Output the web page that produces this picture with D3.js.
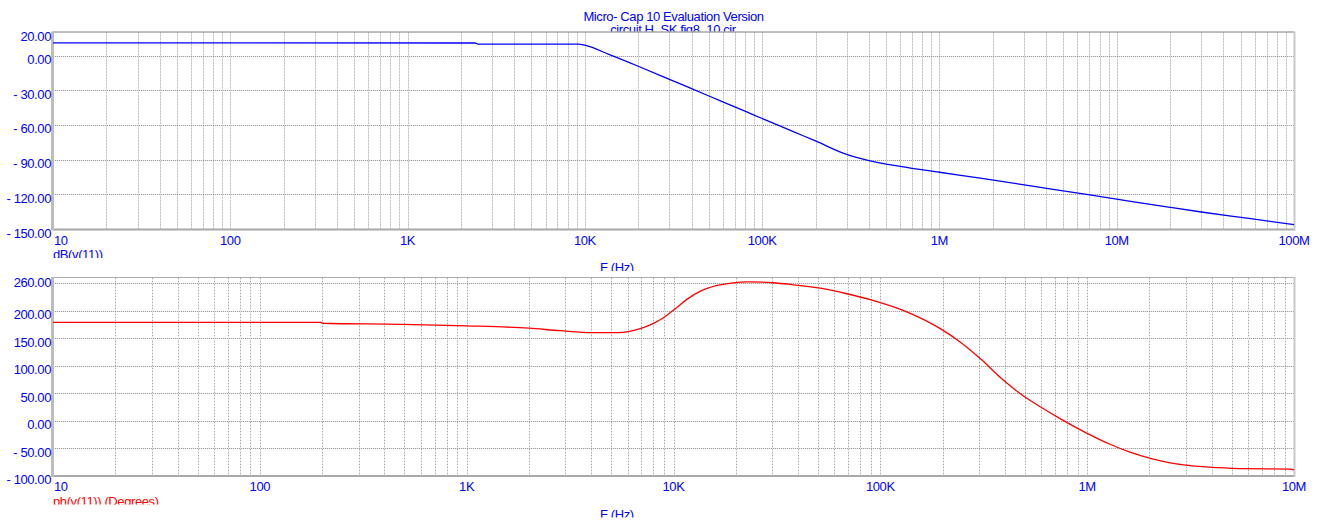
<!DOCTYPE html>
<html>
<head>
<meta charset="utf-8">
<script src="https://cdn.jsdelivr.net/npm/d3@7"></script>
<style>
  html, body { margin: 0; padding: 0; background: #fff; }
  svg { display: block; }
  text { font-family: "Liberation Sans", Arial, sans-serif; font-size: 13px; letter-spacing: -0.4px; }
</style>
</head>
<body>
<svg id="chart" width="1322" height="521"></svg>
<script>
// magnitude trace, dB(v(11))
const magFreq = [10, 2400, 2500, 9200, 10e3, 14e3, 20e3, 30e3, 40e3, 60e3, 80e3, 100e3, 150e3, 200e3, 300e3,
  400e3, 600e3, 1e6, 1.7e6, 4.2e6, 10e6, 20e6, 30e6, 57e6, 100e6];
const magDb = [11.0, 10.9, 10.0, 10.0, 9.0, 0.4, -9.2, -20.5, -28.6, -40.0, -48.1, -54.4, -65.8, -73.8, -85.5,
  -90.8, -95.8, -100.9, -106.0, -115.2, -124.2, -131.3, -135.3, -141.1, -146.3];

// phase trace, ph(v(11))
const phFreq = [10, 199, 200, 476, 1e3, 2e3, 2.83e3, 4.08e3, 5.4e3, 6.9e3, 7.96e3, 8.9e3, 10.2e3, 11.6e3, 13.5e3,
  16.3e3, 19.4e3, 22.7e3, 30.3e3, 37.9e3, 51.2e3, 69e3, 92e3, 135e3, 195e3, 243e3, 304e3, 393e3, 475e3, 593e3,
  740e3, 1.01e6, 1.29e6, 1.61e6, 2.02e6, 2.52e6, 3.15e6, 4.25e6, 5.5e6, 9.6e6, 10e6];
const phDeg = [179.2, 179.2, 177.5, 175.5, 172.8, 168.5, 164, 160.5, 160.5, 167.7, 176.8, 187, 204, 221, 236,
  246.4, 251.3, 253.1, 251.3, 247.6, 241.5, 231.3, 219.1, 197.9, 167.7, 143.4, 113.2, 74, 49, 25.3,
  3.7, -24, -43, -57.4, -68.6, -76.8, -82.1, -85.6, -87.5, -88.3, -89.7];

const topTicks = [20, 0, -30, -60, -90, -120, -150];
const topGrid = [0, -30, -60, -90, -120];
const botTicks = [260, 200, 150, 100, 50, 0, -50, -100];
const botGrid = [250, 200, 150, 100, 50, 0, -50];
const topFreqLabels = ["10", "100", "1K", "10K", "100K", "1M", "10M", "100M"];
const botFreqLabels = ["10", "100", "1K", "10K", "100K", "1M", "10M"];

const BLUE = "#0000ff", RED = "#ff0000";
const svg = d3.select("#chart");
let clipId = 0;

function fmt(v) {
  return v < 0 ? "- " + Math.abs(v).toFixed(2) : v.toFixed(2);
}

// text cut off at a given y, like the original window does
function clippedText(g, x, y, cut, str, color, anchor) {
  const id = "c" + (clipId++);
  svg.append("clipPath").attr("id", id)
    .append("rect").attr("x", 0).attr("y", 0).attr("width", 1322).attr("height", cut);
  g.append("text")
    .attr("x", x).attr("y", y)
    .attr("fill", color)
    .attr("text-anchor", anchor || "start")
    .attr("clip-path", `url(#${id})`)
    .text(str);
}

function drawPanel(cfg) {
  const { x, y, freq, vals, ticks, grid, labels, color, name } = cfg;
  const g = svg.append("g");
  const [x0, x1] = x.range();
  const [yb, yt] = y.range();

  // vertical grid, 1..9 per decade
  const [d0, d1] = x.domain().map(Math.log10);
  const vlines = [];
  for (let d = d0; d < d1; d++) {
    for (let m = 1; m < 10; m++) {
      const f = m * Math.pow(10, d);
      if (f > x.domain()[0]) vlines.push(f);
    }
  }
  const vx = f => Math.round(x(f)) + 0.5;
  g.append("g").selectAll("line").data(vlines).join("line")
    .attr("x1", vx).attr("x2", vx).attr("y1", yt).attr("y2", yb)
    .attr("stroke", "#e6e6e6");
  g.append("g").selectAll("line").data(vlines).join("line")
    .attr("x1", vx).attr("x2", vx).attr("y1", yt).attr("y2", yb)
    .attr("stroke", "#a8a8a8").attr("stroke-dasharray", "1,2");

  // horizontal grid
  const hy = v => Math.round(y(v)) + 0.5;
  g.append("g").selectAll("line").data(grid).join("line")
    .attr("x1", x0).attr("x2", x1).attr("y1", hy).attr("y2", hy)
    .attr("stroke", "#e6e6e6");
  g.append("g").selectAll("line").data(grid).join("line")
    .attr("x1", x0).attr("x2", x1).attr("y1", hy).attr("y2", hy)
    .attr("stroke", "#a0a0a0").attr("stroke-dasharray", "1,1");

  // frame
  g.append("line").attr("x1", x0).attr("x2", x1).attr("y1", yt - 0.5).attr("y2", yt - 0.5)
    .attr("stroke", cfg.topStroke);
  g.append("line").attr("x1", x0).attr("x2", x1 + 1).attr("y1", yb + 0.5).attr("y2", yb + 0.5)
    .attr("stroke", "#a8a8a8").attr("stroke-width", 2);
  g.append("line").attr("x1", x0 - 0.5).attr("x2", x0 - 0.5).attr("y1", yt - 1).attr("y2", yb + 1.5)
    .attr("stroke", "#bdbdbd").attr("stroke-width", 3);
  g.append("line").attr("x1", x1 + 0.5).attr("x2", x1 + 0.5).attr("y1", yt - 1).attr("y2", yb + 1.5)
    .attr("stroke", "#c8c8c8").attr("stroke-width", 2);

  // trace
  const pts = freq.map((f, i) => [f, vals[i]]);
  g.append("path").datum(pts)
    .attr("fill", "none").attr("stroke", color).attr("stroke-width", 1.3)
    .attr("d", d3.line().x(d => x(d[0])).y(d => y(d[1])).curve(d3.curveMonotoneX));

  // y labels: top of text sits on the value
  g.append("g").selectAll("text").data(ticks).join("text")
    .attr("x", 51).attr("y", v => y(v) + 8.5)
    .attr("text-anchor", "end").attr("fill", BLUE)
    .text(fmt);

  // x labels
  const decades = d3.range(labels.length).map(i => Math.pow(10, d0 + i));
  g.append("g").selectAll("text").data(decades).join("text")
    .attr("x", (f, i) => i === 0 ? x0 + 1 : x(f))
    .attr("y", yb + 15.5)
    .attr("text-anchor", (f, i) => i === 0 ? "start" : "middle")
    .attr("fill", BLUE)
    .text((f, i) => labels[i]);

  clippedText(g, x0, yb + 30, yb + 29, name, color);
  clippedText(g, 600, yb + 43, yb + 42, "F (Hz)", BLUE);
}

// title
svg.append("text").attr("x", 673.5).attr("y", 20.5).attr("text-anchor", "middle")
  .attr("fill", BLUE).text("Micro- Cap 10 Evaluation Version");
clippedText(svg, 673, 33.5, 31.5, "circuit H_SK fig8_10.cir", BLUE, "middle");

drawPanel({
  x: d3.scaleLog().domain([10, 1e8]).range([53, 1294]),
  y: d3.scaleLinear().domain([-150, 20]).range([229, 32.5]),
  freq: magFreq, vals: magDb,
  ticks: topTicks, grid: topGrid, labels: topFreqLabels,
  color: BLUE, name: "dB(v(11))", topStroke: "#7a7a7a"
});

drawPanel({
  x: d3.scaleLog().domain([10, 1e7]).range([53, 1294]),
  y: d3.scaleLinear().domain([-100, 260]).range([475.5, 278]),
  freq: phFreq, vals: phDeg,
  ticks: botTicks, grid: botGrid, labels: botFreqLabels,
  color: RED, name: "ph(v(11))  (Degrees)", topStroke: "#b0b0b0"
});
</script>
</body>
</html>
